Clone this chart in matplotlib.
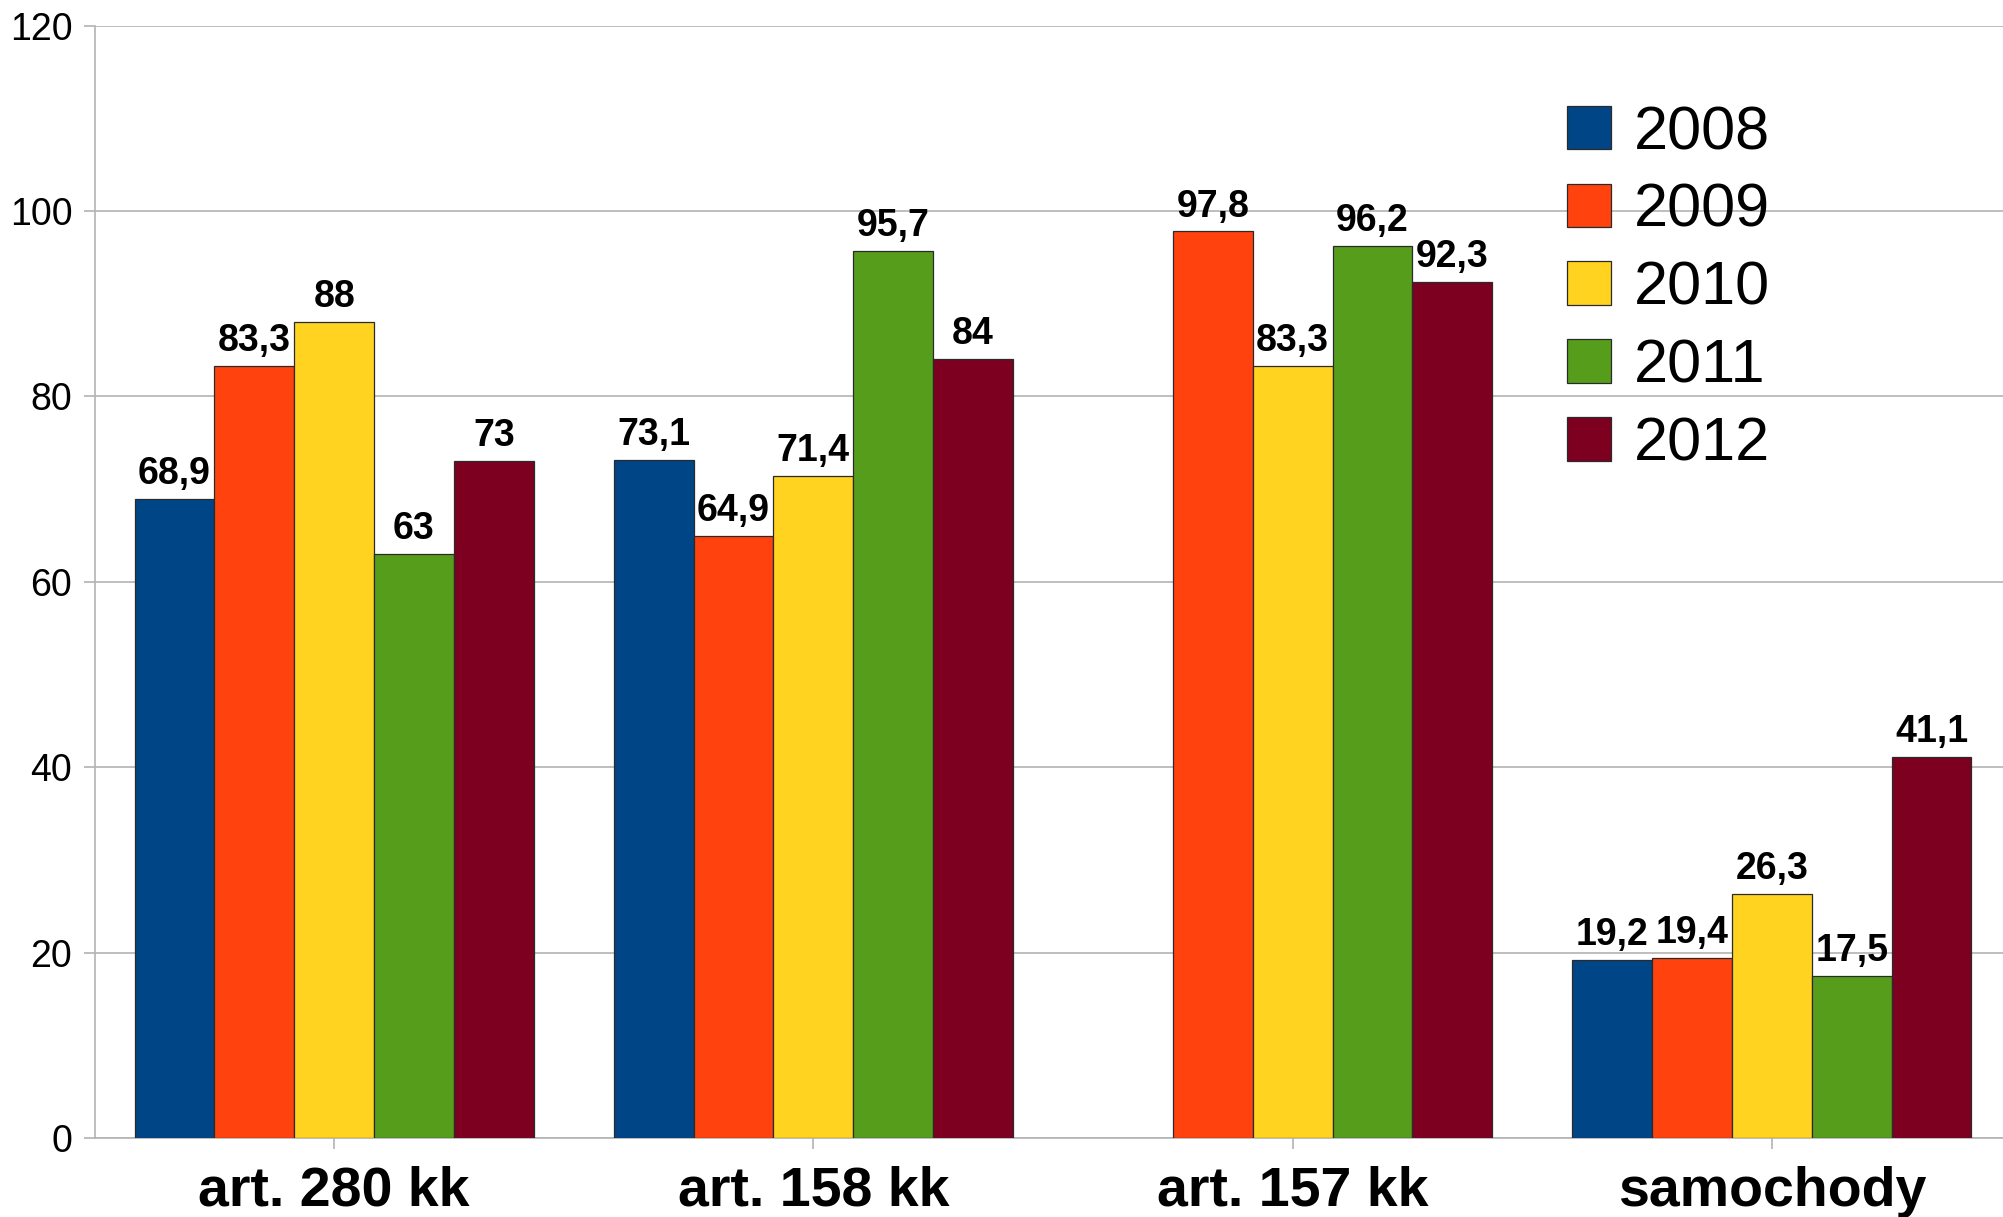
import numpy as np
import matplotlib.pyplot as plt

plt.rcParams['font.family'] = ['Liberation Sans', 'DejaVu Sans']

categories = ['art. 280 kk', 'art. 158 kk', 'art. 157 kk', 'samochody']
years = ['2008', '2009', '2010', '2011', '2012']
values = {
    '2008': [68.9, 73.1, np.nan, 19.2],
    '2009': [83.3, 64.9, 97.8, 19.4],
    '2010': [88.0, 71.4, 83.3, 26.3],
    '2011': [63.0, 95.7, 96.2, 17.5],
    '2012': [73.0, 84.0, 92.3, 41.1],
}
colors = ['#004586', '#ff420e', '#ffd320', '#579d1c', '#7e0021']

fig = plt.figure(figsize=(20.03, 12.17), dpi=100)
ax = fig.add_axes([0.0472, 0.0649, 0.957, 0.914])

x = np.arange(len(categories))
w = 0.1666
for i, year in enumerate(years):
    vals = values[year]
    bars = ax.bar(x + (i - 2) * w, vals, w, color=colors[i], edgecolor='#2a2a2a',
                  linewidth=0.9, label=year, zorder=3)
    labels = ['' if np.isnan(v) else f'{v:g}'.replace('.', ',') for v in vals]
    ax.bar_label(bars, labels=labels, padding=5, fontsize=27, fontweight='bold', zorder=4)

ax.set_xlim(-0.5, 3.5)
ax.set_ylim(0, 120)
ax.set_yticks(range(0, 121, 20))
ax.set_xticks(x)
ax.set_xticklabels(categories, fontsize=40, fontweight='bold')
ax.tick_params(axis='y', labelsize=27, length=8, width=1.2, color='#b3b3b3', pad=8)
ax.tick_params(axis='x', length=8, width=1.2, color='#b3b3b3', pad=12)
ax.yaxis.grid(True, color='#b3b3b3', linewidth=1.2, zorder=0)
ax.set_axisbelow(True)
for s in ['top', 'right']:
    ax.spines[s].set_visible(False)
for s in ['left', 'bottom']:
    ax.spines[s].set_color('#b3b3b3')
    ax.spines[s].set_linewidth(1.2)

ax.legend(loc='upper left', bbox_to_anchor=(1567 / 2003, 1 - 105 / 1217),
          bbox_transform=fig.transFigure, frameon=False, fontsize=44,
          handlelength=0.72, handleheight=0.72, handletextpad=0.38,
          labelspacing=0.34, borderpad=0, borderaxespad=0)

fig.savefig('out.png', dpi=100)
